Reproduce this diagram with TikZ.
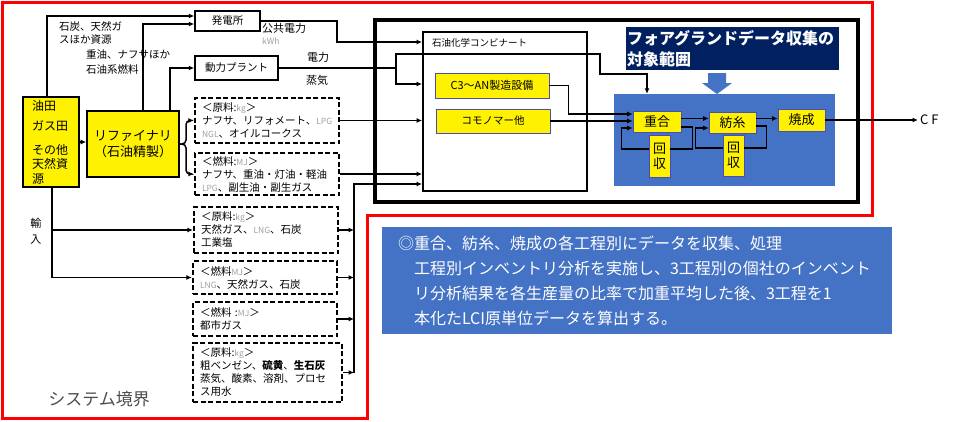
\documentclass[tikz,border=0pt]{standalone}
\usepackage{fontspec}
\setmainfont{Noto Sans CJK JP}
\usetikzlibrary{arrows.meta}
\definecolor{fgblue}{HTML}{4472C4}
\definecolor{navy}{HTML}{002060}
\newcommand{\lite}[1]{{\color{gray!75}\fontsize{8.5}{13}\selectfont #1}}
\begin{document}
\begin{tikzpicture}[x=1pt,y=-1pt,
        arr/.style={-{Latex[length=5.5pt,width=5pt]}, line width=1.5pt},
        link/.style={line width=1.5pt},
        ybox/.style={draw, line width=1.6pt, fill=yellow, inner sep=0pt},
        plainbox/.style={draw, line width=1.5pt, fill=white, inner sep=0pt,
            font=\fontsize{10.5}{13}\selectfont},
        feedbox/.style={draw, line width=2.3pt, dash pattern=on 5pt off 2.5pt,
            inner xsep=7pt, inner ysep=0pt, align=left,
            font=\fontsize{10.5}{13}\selectfont},
        unitbox/.style={draw=gray!60!blue, line width=0.6pt, fill=yellow,
            inner sep=0pt, font=\fontsize{13}{15}\selectfont},
        lbl/.style={inner sep=0pt, align=left, font=\fontsize{10.5}{13.5}\selectfont}]
    \useasboundingbox (0,0) rectangle (970,421);

    % system boundary
    \draw[red, line width=3pt] (2,2) -- (872,2) -- (872,215) -- (367,215)
        -- (367,418) -- (2,418) -- cycle;
    \node[text=black!70, font=\fontsize{17}{20}\selectfont] (sysb) at (99,399) {システム境界};

    \draw[line width=4pt] (375,20) rectangle (858,202);

    % sources
    \node[ybox, minimum width=56pt, minimum height=90pt, text width=38pt, inner xsep=9pt,
        align=left, font=\fontsize{12}{14.5}\selectfont] (oil) at (51,142)
        {油田\\[6pt]ガス田\\[9pt]その他\\天然資\\源};
    \node[ybox, minimum width=92pt, minimum height=66pt, align=center,
        font=\fontsize{13}{16}\selectfont] (refinery) at (133,144) {リファイナリ\\（石油精製）};
    \node[plainbox, minimum width=65pt, minimum height=20pt] (plant) at (227.5,21) {発電所};
    \node[plainbox, minimum width=83pt, minimum height=24pt] (power) at (236.5,68) {動力プラント};

    \node[feedbox, text width=130pt, minimum height=45pt] (feedA) at (267,120.5)
        {＜原料:\lite{kg}＞\\ナフサ、リフォメート、\lite{LPG}\\\lite{NGL}、オイルコークス};
    \node[feedbox, text width=130pt, minimum height=42pt] (feedB) at (267,174)
        {＜燃料:\lite{MJ}＞\\ナフサ、重油・灯油・軽油\\\lite{LPG}、副生油・副生ガス};
    \node[feedbox, text width=130pt, minimum height=46pt] (feedC) at (266,230)
        {＜原料:\lite{kg}＞\\天然ガス、\lite{LNG}、石炭\\工業塩};
    \node[feedbox, text width=130pt, minimum height=33pt] (feedD) at (265,277.5)
        {＜燃料\lite{MJ}＞\\\lite{LNG}、天然ガス、石炭};
    \node[feedbox, text width=130pt, minimum height=34pt] (feedE) at (265,319)
        {＜燃料 :\lite{MJ}＞\\都市ガス};
    \node[feedbox, text width=135pt, minimum height=59pt] (feedF) at (267.5,372.5)
        {＜原料:\lite{kg}＞\\粗ベンゼン、\textbf{硫黄}、\textbf{生石灰}\\蒸気、酸素、溶剤、プロセ\\ス用水};

    \node[lbl, anchor=west] (coal) at (59,33) {石炭、天然ガ\\スほか資源};
    \node[lbl, anchor=west, font=\fontsize{10.5}{15}\selectfont] (heavy) at (86,62) {重油、ナフサほか\\石油系燃料};
    \node[lbl, anchor=west, font=\fontsize{11}{12}\selectfont] (pub) at (262,34) {公共電力\\\lite{kWh}};
    \node[lbl, font=\fontsize{11}{13}\selectfont] (elecl) at (318,57) {電力};
    \node[lbl, font=\fontsize{11}{13}\selectfont] (steaml) at (317,80) {蒸気};
    \node[lbl, font=\fontsize{11}{16}\selectfont] (imp) at (36,231) {輸\\入};

    % petrochemical complex
    \node[draw, line width=1.8pt, fill=white, minimum width=164pt, minimum height=159pt,
        inner sep=0pt] (complex) at (505,111.5) {};
    \node[anchor=west, inner sep=0pt, font=\fontsize{9.5}{11}\selectfont] (cxlabel) at (432,43)
        {石油化学コンビナート};
    \node[unitbox, minimum width=114pt, minimum height=25pt, font=\fontsize{11}{13}\selectfont]
        (c3an) at (492,85.5) {C3～AN製造設備};
    \node[unitbox, minimum width=114pt, minimum height=24pt, font=\fontsize{10.5}{13}\selectfont]
        (comono) at (493,121) {コモノマー他};

    % foreground
    \node[fill=fgblue, minimum width=221pt, minimum height=92pt, inner sep=0pt] (fgarea) at (724.5,140) {};
    \node[fill=navy, text=white, font=\bfseries\fontsize{16}{21}\selectfont, minimum width=213pt,
        minimum height=41pt, text width=211pt, inner xsep=1pt, align=left] (fgtitle) at (732.5,48.5)
        {フォアグランドデータ収集の\\対象範囲};
    \fill[fgblue] (708,73) -- (726,73) -- (726,83) -- (732,83) -- (717,94) -- (702,83) -- (708,83) -- cycle;

    \node[unitbox, minimum width=48pt, minimum height=21pt] (polym) at (657,121.5) {重合};
    \node[unitbox, minimum width=47pt, minimum height=21pt] (spin) at (732.5,122.5) {紡糸};
    \node[unitbox, minimum width=47pt, minimum height=22pt] (bake) at (801.5,120) {焼成};
    \node[unitbox, minimum width=21pt, minimum height=42pt, align=center] (rec1) at (659.5,156) {回\\収};
    \node[unitbox, minimum width=21pt, minimum height=41pt, align=center] (rec2) at (733.5,155.5) {回\\収};
    \node[anchor=west, inner sep=2pt, font=\fontsize{13}{15}\selectfont] (cf) at (918,120) {C F};

    \node[fill=fgblue, text=white, minimum width=510pt, minimum height=107pt, text width=478pt,
        inner xsep=16pt, align=left, font=\fontsize{16}{25}\selectfont] (note) at (637,280.5)
        {◎重合、紡糸、焼成の各工程別にデータを収集、処理\\
         \hspace*{1em}工程別インベントリ分析を実施し、3工程別の個社のインベント\\
         \hspace*{1em}リ分析結果を各生産量の比率で加重平均した後、3工程を1\\
         \hspace*{1em}本化たLCI原単位データを算出する。};

    % connectors
    \draw[arr] ([xshift=-4pt]oil.north) |- ([yshift=5pt]plant.west);
    \draw[arr] ([xshift=10pt]refinery.north) |- ([yshift=-3pt]plant.west);
    \draw[arr] ([xshift=37pt]refinery.north) |- (power.west);
    \draw[arr] (oil.east) -- (oil.east -| refinery.west);

    \coordinate (split) at (186,144);
    \draw[arr, rounded corners=4pt] (refinery.east) -- (split) |- (feedA.west);
    \draw[arr, rounded corners=4pt] (refinery.east) -- (split) |- (feedB.west);
    \draw[arr] ([xshift=1pt]oil.south) |- (feedC.west);
    \draw[arr] ([xshift=1pt]oil.south) |- (feedD.west);

    \coordinate (kwh) at (337,42);
    \draw[arr] (plant.east) -| (kwh) -- (kwh -| complex.west);
    \coordinate (steam) at (396,68);
    \coordinate (elec) at (647,74);
    \draw[link] (power.east) -- (steam);
    \draw[arr] (steam) |- (600,54) |- (elec) -- (elec |- fgarea.north);
    \draw[arr] (steam) |- ([yshift=27.5pt]complex.west);

    \draw[arr] (feedA.east) -- (feedA.east -| complex.west);
    \draw[arr] (feedB.east) -- (feedB.east -| complex.west);
    \coordinate (bus) at (354,184);
    \foreach \f in {feedC,feedD,feedE,feedF}
        \draw[arr] (\f.east) -- (\f.east -| bus);
    \draw[arr] (feedF.east -| bus) -- (bus) -- (bus -| complex.west);

    \draw[arr] (c3an.east) -- ++(19,0) |- ([yshift=7.5pt]polym.west);
    \draw[arr] (comono.east) -- (comono.east -| polym.west);
    \draw[arr] ([yshift=3pt]polym.east) -- ([yshift=3pt]polym.east -| spin.west);
    \draw[arr] ([yshift=4pt]spin.east) -- ([yshift=4pt]spin.east -| bake.west);
    \draw[arr] (bake.east) -- (cf.west);

    \draw[link] ([yshift=-5.5pt]polym.east) -- ++(11,0) |- ([yshift=7pt]rec1.east);
    \draw[arr] ([yshift=7pt]rec1.west) -- ++(-27,0) |- ([yshift=-6.5pt]polym.west);
    \draw[link] ([yshift=-3.5pt]spin.east) -- ++(10,0) |- ([yshift=7.5pt]rec2.east);
    \draw[arr] ([yshift=7.5pt]rec2.west) -- ++(-27,0) |- ([yshift=-5.5pt]spin.west);
\end{tikzpicture}
\end{document}
